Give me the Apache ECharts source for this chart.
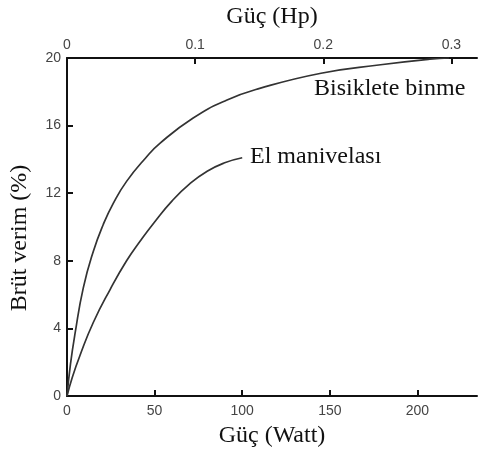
<!DOCTYPE html>
<html>
<head>
<meta charset="utf-8">
<script src="https://cdn.jsdelivr.net/npm/echarts@6/dist/echarts.min.js"></script>
<style>
  html, body { margin: 0; padding: 0; background: #fff; }
  #chart { width: 479px; height: 453px; }
</style>
</head>
<body>
<div id="chart"></div>
<script>
// Bisiklete binme (cycling)
const bikeWatt = [0, 2, 4.6, 9.3, 15, 20.7, 26.4, 34, 45, 53, 72, 91, 110, 145, 179, 207, 218];
const bikeEff  = [0, 1.9, 3.7, 6.4, 8.55, 10.15, 11.4, 12.7, 14.1, 14.95, 16.45, 17.5, 18.2, 19.1, 19.6, 19.93, 20];

// El manivelası (arm cranking)
const crankWatt = [0, 3, 7.4, 15, 24.6, 34, 42, 50, 60, 70, 80, 90, 100];
const crankEff  = [0, 1.1, 2.4, 4.35, 6.3, 8.0, 9.2, 10.3, 11.55, 12.55, 13.3, 13.8, 14.1];

const seriesNames = ['Bisiklete binme', 'El manivelası'];
const yTicks = [0, 4, 8, 12, 16, 20];

const chart = echarts.init(document.getElementById('chart'));

const serif = '"Liberation Serif", "DejaVu Serif", serif';
const sans = '"Liberation Sans", Arial, sans-serif';
const axisLine = { show: true, lineStyle: { color: '#111', width: 2 } };
const axisTick = { show: true, inside: true, length: 6, lineStyle: { color: '#111', width: 2 } };
const tickLabel = { color: '#444', fontFamily: sans, fontSize: 14 };

function pairs(xs, ys) {
  return xs.map((x, i) => [x, ys[i]]);
}

chart.setOption({
  animation: false,
  grid: { left: 67, right: 2, top: 57, bottom: 56 },
  xAxis: [
    {
      type: 'value',
      position: 'bottom',
      min: 0,
      max: 234,
      interval: 50,
      name: 'Güç (Watt)',
      nameLocation: 'middle',
      nameGap: 28,
      nameTextStyle: { fontFamily: serif, fontSize: 24, color: '#111' },
      axisLine,
      axisTick,
      splitLine: { show: false },
      axisLabel: Object.assign({ margin: 8, showMaxLabel: false }, tickLabel)
    },
    {
      type: 'value',
      position: 'top',
      min: 0,
      max: 0.32,
      interval: 0.1,
      name: 'Güç (Hp)',
      nameLocation: 'middle',
      nameGap: 29,
      nameTextStyle: { fontFamily: serif, fontSize: 24, color: '#111' },
      axisLine,
      axisTick,
      splitLine: { show: false },
      axisLabel: Object.assign({
        margin: 6,
        showMaxLabel: false,
        formatter: v => (v === 0 ? '0' : v.toFixed(1))
      }, tickLabel)
    }
  ],
  yAxis: {
    type: 'value',
    min: yTicks[0],
    max: yTicks[yTicks.length - 1],
    interval: 4,
    axisLine,
    axisTick,
    splitLine: { show: false },
    axisLabel: Object.assign({ margin: 6 }, tickLabel)
  },
  graphic: [
    {
      type: 'text',
      x: 20,
      y: 238,
      rotation: Math.PI / 2,
      style: {
        text: 'Brüt verim (%)',
        font: '24px ' + serif,
        fill: '#111',
        align: 'center',
        verticalAlign: 'middle'
      }
    },
    {
      type: 'text',
      x: 314,
      y: 89,
      style: {
        text: seriesNames[0],
        font: '24px ' + serif,
        fill: '#111',
        align: 'left',
        verticalAlign: 'middle'
      }
    },
    {
      type: 'text',
      x: 250,
      y: 157,
      style: {
        text: seriesNames[1],
        font: '24px ' + serif,
        fill: '#111',
        align: 'left',
        verticalAlign: 'middle'
      }
    }
  ],
  series: [
    {
      name: seriesNames[0],
      type: 'line',
      xAxisIndex: 0,
      data: pairs(bikeWatt, bikeEff),
      smooth: 0.5,
      showSymbol: false,
      lineStyle: { color: '#333', width: 1.7 }
    },
    {
      name: seriesNames[1],
      type: 'line',
      xAxisIndex: 0,
      data: pairs(crankWatt, crankEff),
      smooth: 0.5,
      showSymbol: false,
      lineStyle: { color: '#333', width: 1.7 }
    }
  ]
});
</script>
</body>
</html>
